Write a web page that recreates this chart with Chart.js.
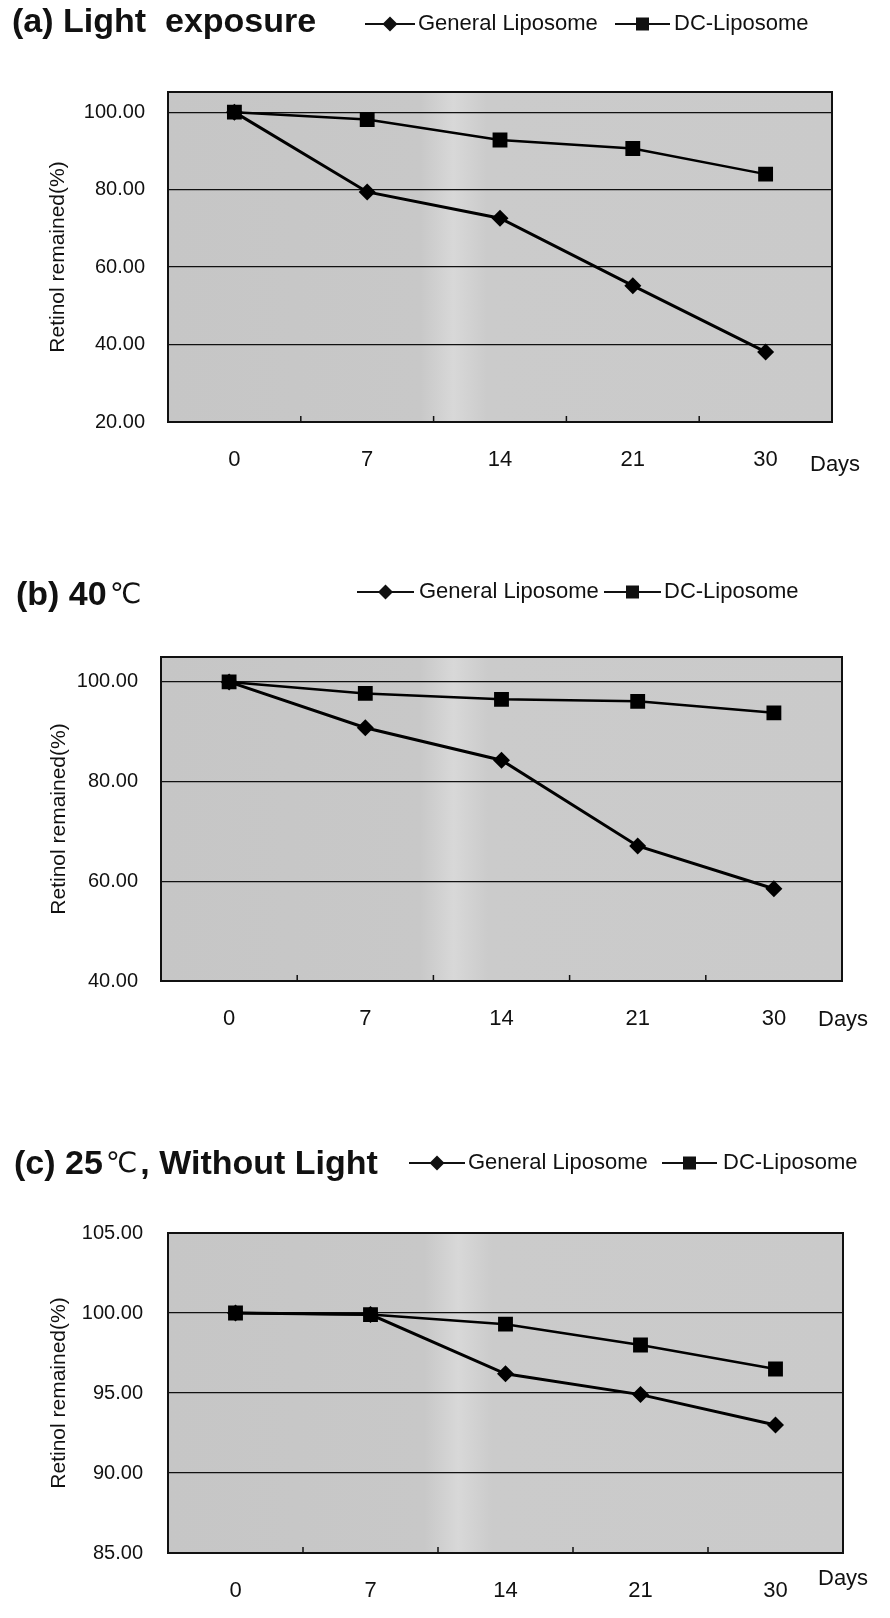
<!DOCTYPE html>
<html>
<head>
<meta charset="utf-8">
<script src="https://cdn.jsdelivr.net/npm/chart.js@4.4.1/dist/chart.umd.min.js"></script>
<style>
  body { margin: 0; background: #fff; width: 890px; height: 1618px; position: relative; overflow: hidden; }
  canvas { position: absolute; left: 0; }
</style>
</head>
<body>
<canvas id="chartA" width="890" height="500" style="top:0"></canvas>
<canvas id="chartB" width="890" height="510" style="top:540px"></canvas>
<canvas id="chartC" width="890" height="508" style="top:1110px"></canvas>
<script>
// data
var days = ['0', '7', '14', '21', '30'];
var seriesNames = ['General Liposome', 'DC-Liposome'];

var generalA = [100, 79.4, 72.6, 55.2, 38.1];
var dcA = [100, 98.1, 92.8, 90.6, 84.0];
var ticksA = [20, 40, 60, 80, 100];

var generalB = [100, 90.8, 84.3, 67.1, 58.5];
var dcB = [100, 97.7, 96.5, 96.1, 93.8];
var ticksB = [40, 60, 80, 100];

var generalC = [100, 99.9, 96.2, 94.9, 93.0];
var dcC = [100, 99.9, 99.3, 98.0, 96.5];
var ticksC = [85, 90, 95, 100, 105];

var FONT = '"Liberation Sans", Arial, sans-serif';
var INK = '#111';

function drawMarker(ctx, style, x, y, r) {
  ctx.beginPath();
  if (style === 'diamond') {
    ctx.moveTo(x, y - r); ctx.lineTo(x + r, y); ctx.lineTo(x, y + r); ctx.lineTo(x - r, y);
    ctx.closePath();
  } else {
    ctx.rect(x - r, y - r, 2 * r, 2 * r);
  }
  ctx.fill();
}

function decor(p) {
  return {
    id: 'decor',
    beforeDraw: function(chart) {
      var a = chart.chartArea, ctx = chart.ctx;
      // grey plot area with a lighter vertical band, like the scanned original
      var g = ctx.createLinearGradient(a.left, 0, a.right, 0);
      g.addColorStop(0, '#c6c6c6');
      g.addColorStop(0.38, '#c8c8c8');
      g.addColorStop(0.43, '#d8d8d8');
      g.addColorStop(0.48, '#cbcbcb');
      g.addColorStop(1, '#cacaca');
      ctx.save();
      ctx.fillStyle = g;
      ctx.fillRect(a.left, a.top, a.right - a.left, a.bottom - a.top);
      ctx.restore();
    },
    afterDraw: function(chart) {
      var a = chart.chartArea, ctx = chart.ctx, xs = chart.scales.x;
      ctx.save();
      ctx.strokeStyle = INK;
      ctx.lineWidth = 2;
      ctx.strokeRect(a.left, a.top, a.right - a.left, a.bottom - a.top);

      // small tick marks between the categories
      ctx.lineWidth = 1.5;
      for (var i = 0; i < days.length - 1; i++) {
        var tx = (xs.getPixelForTick(i) + xs.getPixelForTick(i + 1)) / 2;
        ctx.beginPath();
        ctx.moveTo(tx, a.bottom);
        ctx.lineTo(tx, a.bottom - 6);
        ctx.stroke();
      }

      ctx.fillStyle = INK;
      ctx.textBaseline = 'middle';
      ctx.textAlign = 'left';
      ctx.font = '22px ' + FONT;
      ctx.fillText('Days', a.right + p.daysDx, a.bottom + p.daysDy);

      // panel title, mixed fonts
      var x = p.titleX;
      p.title.forEach(function(part) {
        ctx.font = part.font;
        ctx.fillText(part.text, x, p.titleY);
        x += ctx.measureText(part.text).width + (part.gap || 0);
      });

      // legend: line + marker + label
      ctx.font = '22px ' + FONT;
      p.legend.forEach(function(item, k) {
        ctx.lineWidth = 2;
        ctx.beginPath();
        ctx.moveTo(item.x1, p.legendY);
        ctx.lineTo(item.x2, p.legendY);
        ctx.stroke();
        drawMarker(ctx, item.style, (item.x1 + item.x2) / 2, p.legendY, item.style === 'diamond' ? 7.5 : 6.5);
        ctx.fillText(chart.data.datasets[k].label, item.textX, p.legendY);
      });
      ctx.restore();
    }
  };
}

function makePanel(id, general, dc, ticks, p) {
  return new Chart(document.getElementById(id), {
    type: 'line',
    data: {
      labels: days,
      datasets: [{
        label: seriesNames[0],
        data: general,
        borderColor: '#000',
        backgroundColor: '#000',
        borderWidth: 3,
        pointStyle: 'rectRot',
        pointRadius: 8.5,
        pointBorderWidth: 0,
        pointBackgroundColor: '#000',
        tension: 0
      }, {
        label: seriesNames[1],
        data: dc,
        borderColor: '#000',
        backgroundColor: '#000',
        borderWidth: 2.5,
        pointStyle: 'rect',
        pointRadius: 10.5,
        pointBorderWidth: 0,
        pointBackgroundColor: '#000',
        tension: 0
      }]
    },
    options: {
      responsive: false,
      animation: false,
      layout: { padding: { top: p.padTop, right: p.padRight, bottom: p.padBottom, left: 0 } },
      plugins: { legend: { display: false }, tooltip: { enabled: false } },
      scales: {
        x: {
          offset: true,
          grid: { display: false, drawTicks: false },
          border: { display: false },
          ticks: { color: INK, font: { family: FONT, size: 22 }, padding: p.xPad, maxRotation: 0 },
          afterFit: function(s) { s.height = p.xAxisH; }
        },
        y: {
          min: p.min,
          max: p.max,
          grid: { color: INK, lineWidth: 1.2, drawTicks: false },
          border: { display: false },
          afterBuildTicks: function(s) { s.ticks = ticks.map(function(v) { return { value: v }; }); },
          ticks: {
            color: INK, font: { family: FONT, size: 20 }, padding: p.yPad,
            callback: function(v) { return Number(v).toFixed(2); }
          },
          title: {
            display: true, text: 'Retinol remained(%)', color: INK,
            font: { family: FONT, size: 21 }, padding: { top: p.yTitlePad, bottom: 0 }
          },
          afterFit: function(s) { s.width = p.yAxisW; }
        }
      }
    },
    plugins: [decor(p)]
  });
}

var BOLD = 'bold 34px ' + FONT;
var DEG = '28px "DejaVu Sans", sans-serif';

makePanel('chartA', generalA, dcA, ticksA, {
  padTop: 92, padRight: 58, padBottom: 18, xAxisH: 60, yAxisW: 168, yPad: 23, xPad: 25, yTitlePad: 46,
  min: 20, max: 105.2,
  titleX: 12, titleY: 23, title: [{ text: '(a) Light  exposure', font: BOLD }],
  legendY: 24,
  legend: [{ x1: 365, x2: 415, textX: 418, style: 'diamond' }, { x1: 615, x2: 670, textX: 674, style: 'square' }],
  daysDx: -22, daysDy: 43
});

makePanel('chartB', generalB, dcB, ticksB, {
  padTop: 117, padRight: 48, padBottom: 14, xAxisH: 55, yAxisW: 161, yPad: 23, xPad: 25, yTitlePad: 47,
  min: 40, max: 105,
  titleX: 16, titleY: 56, title: [{ text: '(b) 40', font: BOLD, gap: 3 }, { text: '\u2103', font: DEG }],
  legendY: 52,
  legend: [{ x1: 357, x2: 414, textX: 419, style: 'diamond' }, { x1: 604, x2: 661, textX: 664, style: 'square' }],
  daysDx: -24, daysDy: 39
});

makePanel('chartC', generalC, dcC, ticksC, {
  padTop: 123, padRight: 47, padBottom: 10, xAxisH: 55, yAxisW: 168, yPad: 25, xPad: 25, yTitlePad: 47,
  min: 85, max: 105,
  titleX: 14, titleY: 55,
  title: [{ text: '(c) 25', font: BOLD, gap: 3 }, { text: '\u2103', font: DEG, gap: 3 }, { text: ', Without Light', font: BOLD }],
  legendY: 53,
  legend: [{ x1: 409, x2: 465, textX: 468, style: 'diamond' }, { x1: 662, x2: 717, textX: 723, style: 'square' }],
  daysDx: -25, daysDy: 26
});
</script>
</body>
</html>
